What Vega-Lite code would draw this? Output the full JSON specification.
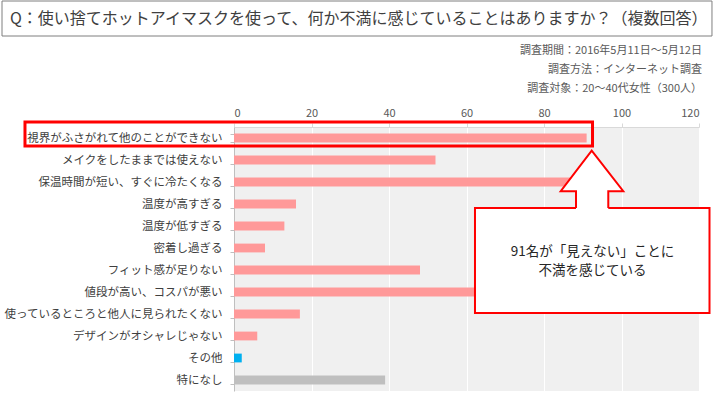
{
  "$schema": "https://vega.github.io/schema/vega-lite/v6.json",
  "width": 465,
  "height": 264,
  "autosize": {"type": "none"},
  "padding": {"left": 234, "top": 127, "right": 21, "bottom": 13},
  "background": "white",
  "config": {"font": "Noto Sans CJK JP", "view": {"fill": "#f0f0f0", "stroke": null}},
  "resolve": {"scale": {"y": "independent"}, "axis": {"x": "independent", "y": "independent"}},
  "layer": [
    {
      "data": {"values": [
        {"item": "視界がふさがれて他のことができない", "value": 91, "group": "main"},
        {"item": "メイクをしたままでは使えない", "value": 52, "group": "main"},
        {"item": "保温時間が短い、すぐに冷たくなる", "value": 88, "group": "main"},
        {"item": "温度が高すぎる", "value": 16, "group": "main"},
        {"item": "温度が低すぎる", "value": 13, "group": "main"},
        {"item": "密着し過ぎる", "value": 8, "group": "main"},
        {"item": "フィット感が足りない", "value": 48, "group": "main"},
        {"item": "値段が高い、コスパが悪い", "value": 70, "group": "main"},
        {"item": "使っているところと他人に見られたくない", "value": 17, "group": "main"},
        {"item": "デザインがオシャレじゃない", "value": 6, "group": "main"},
        {"item": "その他", "value": 2, "group": "other"},
        {"item": "特になし", "value": 39, "group": "none"}
      ]},
      "mark": {"type": "bar"},
      "encoding": {
        "y": {"field": "item", "type": "nominal", "sort": null,
          "scale": {"paddingInner": 0.6, "paddingOuter": 0.3},
          "axis": {"title": null, "tickBand": "extent", "domainColor": "#bfbfbf", "tickColor": "#bfbfbf", "tickSize": 4, "labelPadding": 8, "labelFontSize": 11.5, "labelColor": "#404040", "labelLimit": 300, "grid": false}},
        "x": {"field": "value", "type": "quantitative",
          "scale": {"domain": [0, 120], "nice": false, "zero": false},
          "axis": {"orient": "top", "title": null, "values": [0, 20, 40, 60, 80, 100, 120], "grid": true, "gridColor": "#ffffff", "gridWidth": 1, "gridOpacity": 1, "domainColor": "#d9d9d9", "tickColor": "#d9d9d9", "tickSize": 4, "labelPadding": 5, "labelFontSize": 11, "labelColor": "#595959"}},
        "color": {"field": "group", "type": "nominal", "scale": {"domain": ["main", "other", "none"], "range": ["#ff9999", "#00b0f0", "#bfbfbf"]}, "legend": null}
      }
    },
    {
      "layer": [
        {
          "data": {"values": [{"x": -59.87, "x2": 123.35, "y": -5.727, "y2": -4.136}]},
          "mark": {"type": "rect", "fill": "white", "fillOpacity": 0, "stroke": "#7f7f7f", "strokeWidth": 1},
          "encoding": {
            "x": {"field": "x", "type": "quantitative", "scale": {"domain": [0, 120], "nice": false, "zero": false}, "axis": null},
            "x2": {"field": "x2"},
            "y": {"field": "y", "type": "quantitative", "scale": {"domain": [0, 12], "reverse": true, "nice": false, "zero": false}, "axis": null},
            "y2": {"field": "y2"}
          }
        },
        {
          "data": {"values": [{"x": -57.81, "y": -4.9, "label": "Q：使い捨てホットアイマスクを使って、何か不満に感じていることはありますか？（複数回答）"}]},
          "mark": {"type": "text", "align": "left", "baseline": "middle", "fontSize": 16, "color": "#404040"},
          "encoding": {
            "x": {"field": "x", "type": "quantitative", "scale": {"domain": [0, 120], "nice": false, "zero": false}, "axis": null},
            "y": {"field": "y", "type": "quantitative", "scale": {"domain": [0, 12], "reverse": true, "nice": false, "zero": false}, "axis": null},
            "text": {"field": "label"}
          }
        },
        {
          "data": {"values": [
            {"x": 120.77, "y": -3.436, "label": "調査期間：2016年5月11日～5月12日"},
            {"x": 120.77, "y": -2.582, "label": "調査方法：インターネット調査"},
            {"x": 120.77, "y": -1.741, "label": "調査対象：20～40代女性（300人）"}
          ]},
          "mark": {"type": "text", "align": "right", "baseline": "middle", "fontSize": 11, "color": "#595959"},
          "encoding": {
            "x": {"field": "x", "type": "quantitative", "scale": {"domain": [0, 120], "nice": false, "zero": false}, "axis": null},
            "y": {"field": "y", "type": "quantitative", "scale": {"domain": [0, 12], "reverse": true, "nice": false, "zero": false}, "axis": null},
            "text": {"field": "label"}
          }
        },
        {
          "data": {"values": [{"x": -53.94, "x2": 92.52, "y": -0.227, "y2": 0.864}]},
          "mark": {"type": "rect", "fill": "white", "fillOpacity": 0, "stroke": "#ff0000", "strokeWidth": 3},
          "encoding": {
            "x": {"field": "x", "type": "quantitative", "scale": {"domain": [0, 120], "nice": false, "zero": false}, "axis": null},
            "x2": {"field": "x2"},
            "y": {"field": "y", "type": "quantitative", "scale": {"domain": [0, 12], "reverse": true, "nice": false, "zero": false}, "axis": null},
            "y2": {"field": "y2"}
          }
        },
        {
          "data": {"values": [{"x": 62.19, "x2": 122.71, "y": 3.682, "y2": 8.455}]},
          "mark": {"type": "rect", "fill": "white", "stroke": "#ff0000", "strokeWidth": 2},
          "encoding": {
            "x": {"field": "x", "type": "quantitative", "scale": {"domain": [0, 120], "nice": false, "zero": false}, "axis": null},
            "x2": {"field": "x2"},
            "y": {"field": "y", "type": "quantitative", "scale": {"domain": [0, 12], "reverse": true, "nice": false, "zero": false}, "axis": null},
            "y2": {"field": "y2"}
          }
        },
        {
          "data": {"values": [
            {"x": 84.31, "y": 2.918, "y2": 2.918},
            {"x": 92.31, "y": 1.077, "y2": 2.918},
            {"x": 100.46, "y": 2.918, "y2": 2.918}
          ]},
          "mark": {"type": "area", "color": "white", "opacity": 1},
          "encoding": {
            "x": {"field": "x", "type": "quantitative", "scale": {"domain": [0, 120], "nice": false, "zero": false}, "axis": null},
            "y": {"field": "y", "type": "quantitative", "scale": {"domain": [0, 12], "reverse": true, "nice": false, "zero": false}, "axis": null},
            "y2": {"field": "y2"}
          }
        },
        {
          "data": {"values": [{"x": 88.26, "x2": 96.59, "y": 2.85, "y2": 3.75}]},
          "mark": {"type": "rect", "fill": "white", "strokeWidth": 0},
          "encoding": {
            "x": {"field": "x", "type": "quantitative", "scale": {"domain": [0, 120], "nice": false, "zero": false}, "axis": null},
            "x2": {"field": "x2"},
            "y": {"field": "y", "type": "quantitative", "scale": {"domain": [0, 12], "reverse": true, "nice": false, "zero": false}, "axis": null},
            "y2": {"field": "y2"}
          }
        },
        {
          "data": {"values": [
            {"i": 1, "x": 88.26, "y": 3.682},
            {"i": 2, "x": 88.26, "y": 2.918},
            {"i": 3, "x": 84.31, "y": 2.918},
            {"i": 4, "x": 92.31, "y": 1.077},
            {"i": 5, "x": 100.46, "y": 2.918},
            {"i": 6, "x": 96.59, "y": 2.918},
            {"i": 7, "x": 96.59, "y": 3.682}
          ]},
          "mark": {"type": "line", "color": "#ff0000", "strokeWidth": 2, "strokeJoin": "miter"},
          "encoding": {
            "x": {"field": "x", "type": "quantitative", "scale": {"domain": [0, 120], "nice": false, "zero": false}, "axis": null},
            "y": {"field": "y", "type": "quantitative", "scale": {"domain": [0, 12], "reverse": true, "nice": false, "zero": false}, "axis": null},
            "order": {"field": "i", "type": "quantitative"}
          }
        },
        {
          "data": {"values": [
            {"x": 92.52, "y": 5.695, "label": "91名が「見えない」ことに"},
            {"x": 92.52, "y": 6.545, "label": "不満を感じている"}
          ]},
          "mark": {"type": "text", "align": "center", "baseline": "middle", "fontSize": 13.5, "color": "#262626"},
          "encoding": {
            "x": {"field": "x", "type": "quantitative", "scale": {"domain": [0, 120], "nice": false, "zero": false}, "axis": null},
            "y": {"field": "y", "type": "quantitative", "scale": {"domain": [0, 12], "reverse": true, "nice": false, "zero": false}, "axis": null},
            "text": {"field": "label"}
          }
        }
      ]
    }
  ]
}
